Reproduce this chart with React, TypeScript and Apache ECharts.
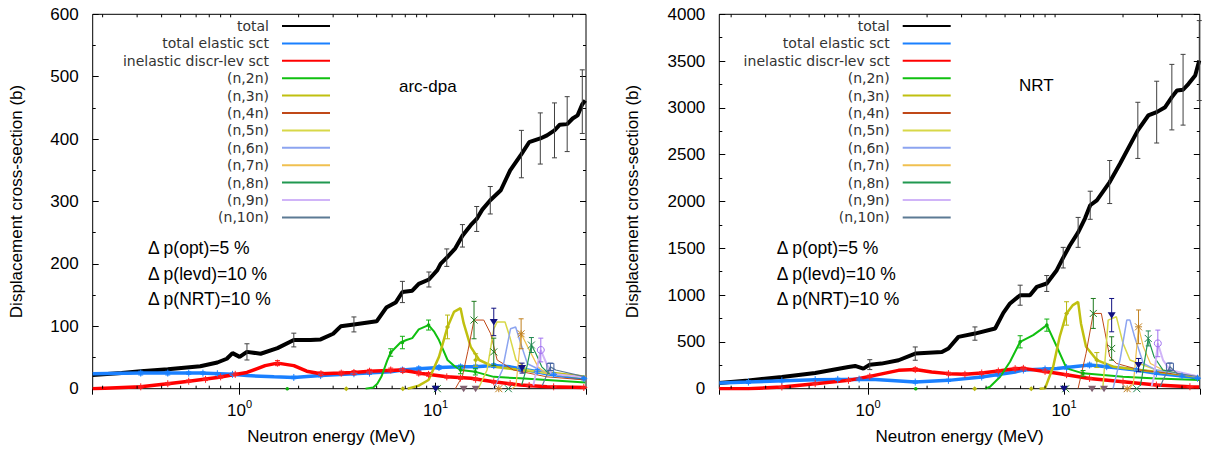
import React, { useEffect, useRef } from "react";
import * as echarts from "echarts";

// ---------- names, styles ----------
const seriesNames = [
  "total", "total elastic sct", "inelastic discr-lev sct", "(n,2n)", "(n,3n)", "(n,4n)",
  "(n,5n)", "(n,6n)", "(n,7n)", "(n,8n)", "(n,9n)", "(n,10n)",
];
const lineColors = ["#000000", "#1a80ff", "#ff0000", "#10c010", "#c0c010", "#c04818", "#d8d848", "#8ca4f0", "#f0c050", "#209850", "#d0b4f8", "#5c7a94"];
const lineWidths = [4, 3.5, 3.5, 2, 2.5, 1, 1.5, 1.5, 1.2, 1.2, 2, 1.2];
const errColors = ["#404040", "#1a80ff", "#ff2020", "#10b010", "#b8b810", "#1e7a1e", "#101080", "#806070", "#c08020", "#208850", "#a070f0", "#4060a0"];
const errMarkers = ["none", "plus", "plus", "dot", "diamond", "cross", "triDown", "triDown", "star", "cross", "circle", "square"];
const noteLines = ["\u0394 p(opt)=5 %", "\u0394 p(levd)=10 %", "\u0394 p(NRT)=10 %"];
const minorTickValues = [0.2, 0.3, 0.4, 0.5, 0.6, 0.7, 0.8, 0.9, 2, 3, 4, 5, 6, 7, 8, 9, 20, 30, 40, 50];

// ---------- arc-dpa panel data: [E (MeV), value (b)] ----------
const arcTotal = [[0.178,22],[0.25,25],[0.313,28],[0.43,31],[0.63,36],[0.77,42],[0.86,48],[0.92,57],[1.0,51],[1.09,59],[1.28,56],[1.56,65],[1.89,78],[2.3,78],[2.59,79],[3.0,88],[3.28,100],[3.83,103],[5.0,108],[5.6,130],[6.25,138],[6.77,155],[7.6,157],[8.2,168],[9.24,175],[10.2,190],[10.6,200],[11.4,210],[12.6,225],[13.7,245],[15.1,262],[16.2,272],[17.3,287],[19.0,302],[21.5,318],[24,350],[27.4,376],[30,395],[34.2,401],[37,406],[40.4,414],[43,423],[46.9,424],[50,433],[53,438],[56,456],[58,462]];
const arcElastic = [[0.178,24],[0.313,25],[0.43,25],[0.63,25],[0.92,23],[1.09,21],[1.5,19],[1.89,18],[2.59,21],[3.83,24],[5.0,26],[5.9,27],[6.77,30],[8.2,32],[10.4,34],[13.4,35],[16,35],[19.8,37],[24,35],[27,32],[32,28],[37,24],[46,20],[58,16]];
const arcInelastic = [[0.178,0],[0.313,3],[0.43,8],[0.55,12],[0.77,18],[1.09,26],[1.35,37],[1.56,41],[1.89,37],[2.2,28],[2.59,24],[3.28,25],[3.83,26],[4.6,28],[6.6,30],[7.6,27],[8.5,24.5],[11.4,19],[15.1,16.6],[19.8,11],[27,6],[37,3],[58,2]];
const arcN2n = [[4.39,0],[4.8,2],[5.04,8],[5.3,20],[5.66,45],[5.9,58],[6.62,74],[7.1,78],[7.6,81],[8.2,95],[9.2,102],[9.8,92],[10.4,78],[11.5,46],[12.5,36],[13.4,30],[15.95,27],[19.8,19],[27,16.6],[37,14],[58,10]];
const arcN3n = [[7.2,0],[8.2,5],[9.2,14],[10.4,51],[11.5,99],[12.4,123],[13.4,129],[13.9,105],[15.1,67],[16.7,46],[19.8,35],[27,30],[40,25],[58,19]];
const arcN4n = [[12.6,0],[13.7,20],[14.6,60],[15.7,110],[17.6,110],[19.1,88],[20.6,46],[24.9,30],[37,19],[58,14]];
const arcN5n = [[16.5,0],[18.3,30],[19.8,96],[20.6,107],[22.6,107],[23.9,83],[25.7,46],[29.5,30],[37,24],[58,18]];
const arcN6n = [[19.8,0],[21.9,30],[24.1,96],[25.6,99],[27.2,72],[29.4,40],[34.2,30],[40,22],[58,18]];
const arcN7n = [[24.5,0],[25.7,5],[27.3,88],[29.5,67],[33.3,35],[37,24],[58,18]];
const arcN8n = [[27.5,6],[29.2,35],[30.8,70],[32.5,56],[34.8,35],[37.9,24],[58,16]];
const arcN9n = [[31.5,5],[34.4,62],[36.8,40],[39,24],[58,18]];
const arcN10n = [[35,5],[38.5,35],[41,30],[58,19]];

// error points: [E, value, error]
const arcTotalErr = [[1.09,59,13],[1.89,78,11],[3.83,103,12],[6.77,155,17],[9.24,175,12],[11.4,210,14],[13.7,245,18],[16.2,272,20],[19.0,302,22],[27.4,376,38],[34.2,401,41],[40.4,414,44],[46.9,424,44],[56,460,51]];
const arcElasticErr = [[0.313,25,3],[0.43,25,3],[0.55,25,2],[0.65,25,2],[0.77,24,2],[0.92,23,2],[1.89,18,2],[2.59,21,2],[3.83,24,2],[4.6,25,2],[6.77,30,3],[8.2,32,3],[10.4,34,3],[13.4,35,3],[16,35,3],[19.8,37,3],[27,32,3],[33,28,3],[40,23,2],[57,16,2]];
const arcInelasticErr = [[0.313,3,2],[0.43,8,2],[0.55,12,2],[0.67,15,2],[0.8,19,2],[0.95,23,2],[1.56,41,4],[2.6,24,3],[3.3,25,3],[3.83,26,3],[4.6,28,3],[5.9,30,3],[6.8,29,3],[8.2,25,3],[9.2,23,3],[11.4,19,2],[13.4,17,2],[16,15,2],[19.8,11,2],[24,8,2],[30,5,2],[40,3,1],[57,2,1]];
const arcN2nErr = [[1.75,0,0],[5.9,58,6],[6.77,74,10],[9.2,102,8],[13.4,30,6],[15.95,27,5]];
const arcN3nErr = [[3.5,0,0],[6.8,0,0],[11.5,99,19],[16,46,10]];
const arcN4nErr = [[10.2,0,0],[15.7,110,30],[19.8,59,22]];
const arcN5nErr = [[10.0,0,0],[19.8,107,22],[27.6,33,8]];
const arcN6nErr = [[13.9,0,0],[16,0,0]];
const arcN7nErr = [[21,0,0],[27.3,88,24]];
const arcN8nErr = [[23.5,0,0],[30.8,70,12]];
const arcN9nErr = [[34.4,62,19]];
const arcN10nErr = [[38.5,35,6]];

// ---------- NRT panel data ----------
const nrtTotal = [[0.174,61],[0.245,89],[0.363,125],[0.537,168],[0.794,232],[0.858,243],[0.946,214],[1.02,257],[1.17,268],[1.43,304],[1.74,375],[2.38,393],[2.57,429],[2.89,554],[3.51,589],[4.45,643],[4.9,810],[5.3,911],[5.97,999],[6.7,999],[7.26,1088],[8.16,1124],[9.18,1266],[9.9,1400],[10.7,1530],[11.8,1670],[12.8,1820],[13.6,1960],[14.7,2013],[17.1,2208],[19.3,2404],[23.8,2760],[26.9,2919],[29.7,2955],[32.8,3008],[35.5,3115],[37.7,3186],[40.5,3194],[43.2,3257],[46.7,3346],[49,3506]];
const nrtElastic = [[0.174,61],[0.245,71],[0.537,96],[1.04,100],[1.74,71],[2.57,89],[3.8,125],[5.63,179],[6.2,199],[9.19,217],[13.5,253],[16.5,235],[23.4,199],[29.6,164],[43.9,128],[49,110]];
const nrtInelastic = [[0.174,0],[0.245,0],[0.363,18],[0.537,54],[0.794,89],[1.02,132],[1.43,196],[1.74,204],[2.11,179],[2.57,161],[3.12,154],[3.8,168],[4.62,189],[5.63,214],[6.2,217],[9.19,164],[13.5,110],[20,75],[29.6,39],[43.9,21],[49,18]];
const nrtN2n = [[3.96,0],[4.19,21],[4.72,128],[5.3,288],[5.97,501],[6.96,572],[7.55,626],[8.17,679],[9.19,448],[10.3,217],[12.5,164],[20,128],[29.6,110],[49,92]];
const nrtN3n = [[7.5,0],[8.0,4],[8.8,235],[9.5,555],[10.3,804],[11.1,893],[11.8,928],[12.2,697],[12.95,448],[14.7,306],[17.8,235],[24.5,199],[49,128]];
const nrtN4n = [[11.8,4],[12.95,377],[14.1,804],[15.5,804],[16.1,626],[17.1,341],[18.5,270],[24.5,199],[49,128]];
const nrtN5n = [[15.3,0],[15.8,21],[16.8,733],[18.5,768],[20,484],[21.7,306],[29.6,199],[49,128]];
const nrtN6n = [[17.8,4],[19.3,306],[20.9,733],[21.7,733],[22.9,555],[25.4,270],[29.6,199],[49,128]];
const nrtN7n = [[21.5,0],[22.6,57],[24,661],[25.4,448],[27.6,270],[32,199],[49,128]];
const nrtN8n = [[24.5,30],[25,128],[26.9,537],[28.8,341],[32,199],[49,128]];
const nrtN9n = [[28,30],[28.8,128],[30.1,484],[32,306],[34.7,199],[49,128]];
const nrtN10n = [[31,20],[32,92],[34.7,235],[37.7,164],[49,128]];

const nrtTotalErr = [[1.02,257,53],[1.74,375,71],[3.51,589,71],[5.97,999,107],[8.16,1124,85],[9.9,1400,110],[11.8,1670,160],[13.6,1960,150],[17.1,2208,230],[23.8,2760,300],[29.7,2955,330],[35.5,3115,350],[40.5,3194,378],[49,3506,427]];
const nrtElasticErr = [[0.245,71,15],[0.363,85,12],[0.537,96,12],[0.7,100,12],[0.9,102,12],[1.74,71,12],[2.57,89,12],[3.8,125,12],[4.6,150,15],[6.2,199,15],[8,210,15],[10.3,225,15],[13.5,253,20],[16.5,235,15],[23.4,199,15],[29.6,164,12],[40,135,10],[48,112,10]];
const nrtInelasticErr = [[0.363,18,8],[0.537,54,10],[0.794,89,12],[1.02,132,14],[1.74,204,20],[2.57,161,15],[3.12,154,15],[3.8,168,15],[4.62,189,15],[5.63,214,15],[6.2,217,15],[8,185,15],[10.3,150,12],[13.5,110,12],[20,75,10],[29.6,39,8],[43.9,21,6]];
const nrtN2nErr = [[1.75,0,0],[5.97,501,65],[8.17,679,65],[12.5,164,30]];
const nrtN3nErr = [[3.5,0,0],[6.8,0,0],[10.3,804,125],[14.7,306,80]];
const nrtN4nErr = [[10.2,0,0],[14.1,804,160],[17.5,430,125]];
const nrtN5nErr = [[10.0,0,0],[17.5,786,178],[24,252,71]];
const nrtN6nErr = [[13.9,0,0],[16,0,0]];
const nrtN7nErr = [[21,0,0],[24,661,180]];
const nrtN8nErr = [[23.5,0,0],[26.9,537,80]];
const nrtN9nErr = [[30.1,484,142]];
const nrtN10nErr = [[34.7,235,40]];

const arcLines = [arcTotal, arcElastic, arcInelastic, arcN2n, arcN3n, arcN4n, arcN5n, arcN6n, arcN7n, arcN8n, arcN9n, arcN10n];
const arcErrs = [arcTotalErr, arcElasticErr, arcInelasticErr, arcN2nErr, arcN3nErr, arcN4nErr, arcN5nErr, arcN6nErr, arcN7nErr, arcN8nErr, arcN9nErr, arcN10nErr];
const nrtLines = [nrtTotal, nrtElastic, nrtInelastic, nrtN2n, nrtN3n, nrtN4n, nrtN5n, nrtN6n, nrtN7n, nrtN8n, nrtN9n, nrtN10n];
const nrtErrs = [nrtTotalErr, nrtElasticErr, nrtInelasticErr, nrtN2nErr, nrtN3nErr, nrtN4nErr, nrtN5nErr, nrtN6nErr, nrtN7nErr, nrtN8nErr, nrtN9nErr, nrtN10nErr];

const FONT = "'Liberation Sans', Arial, Helvetica, sans-serif";
const LEGEND_FONT = "'DejaVu Sans', sans-serif";

const panels = [
  { grid: { left: 92.7, top: 14.3, width: 493.3, height: 374.4 }, xMin: 0.178, xMax: 58.5, yMax: 600, yStep: 100, yNameGap: 66, xNamePad: 16, lines: arcLines, errs: arcErrs, tag: "arc-dpa", tagX: 399, tagY: 88, noteX: 148, legendRight: 874 },
  { grid: { left: 719.3, top: 14.3, width: 480.5, height: 374.4 }, xMin: 0.174, xMax: 49.3, yMax: 4000, yStep: 500, yNameGap: 76.5, xNamePad: 0, lines: nrtLines, errs: nrtErrs, tag: "NRT", tagX: 1019, tagY: 87, noteX: 776.7, legendRight: 253.3 },
];
const noteYs = [249.3, 274.5, 300.2];

function markerShapes(kind: string, cx: number, cy: number, color: string): any[] {
  const s = 3.5;
  const ln = (x1: number, y1: number, x2: number, y2: number) => ({ type: "line", shape: { x1, y1, x2, y2 }, style: { stroke: color, lineWidth: 1 } });
  const plus = [ln(cx - s, cy, cx + s, cy), ln(cx, cy - s, cx, cy + s)];
  const cross = [ln(cx - s, cy - s, cx + s, cy + s), ln(cx - s, cy + s, cx + s, cy - s)];
  switch (kind) {
    case "plus": return plus;
    case "cross": return cross;
    case "star": return plus.concat(cross);
    case "dot": return [{ type: "circle", shape: { cx, cy, r: 1.8 }, style: { fill: color } }];
    case "circle": return [{ type: "circle", shape: { cx, cy, r: s }, style: { fill: "none", stroke: color, lineWidth: 1 } }];
    case "square": return [{ type: "rect", shape: { x: cx - s, y: cy - s, width: 2 * s, height: 2 * s }, style: { fill: "none", stroke: color, lineWidth: 1 } }];
    case "diamond": return [{ type: "polygon", shape: { points: [[cx, cy - 2.5], [cx + 2.5, cy], [cx, cy + 2.5], [cx - 2.5, cy]] }, style: { fill: color } }];
    case "triDown": return [{ type: "polygon", shape: { points: [[cx - s - 0.5, cy - s + 0.5], [cx + s + 0.5, cy - s + 0.5], [cx, cy + s]] }, style: { fill: color } }];
    default: return [];
  }
}

function makeErrRender(color: string, marker: string, yMax: number) {
  return (params: any, api: any) => {
    const x = api.value(0), y = api.value(1), e = api.value(2);
    const p = api.coord([x, y]);
    const children: any[] = [];
    if (e > 0) {
      const lo = api.coord([x, Math.max(0, y - e)]);
      const hi = api.coord([x, Math.min(yMax, y + e)]);
      const c = 2.5;
      const st = { stroke: color, lineWidth: 1 };
      children.push({ type: "line", shape: { x1: p[0], y1: lo[1], x2: p[0], y2: hi[1] }, style: st });
      children.push({ type: "line", shape: { x1: p[0] - c, y1: lo[1], x2: p[0] + c, y2: lo[1] }, style: st });
      children.push({ type: "line", shape: { x1: p[0] - c, y1: hi[1], x2: p[0] + c, y2: hi[1] }, style: st });
    }
    markerShapes(marker, p[0], p[1], color).forEach((m) => children.push(m));
    return { type: "group", children };
  };
}

function minorTickRender(params: any, api: any) {
  const pt = api.coord([api.value(0), 0]);
  const cs = params.coordSys;
  const x = pt[0];
  return {
    type: "group",
    children: [
      { type: "line", shape: { x1: x, y1: cs.y + cs.height, x2: x, y2: cs.y + cs.height - 3 }, style: { stroke: "#000", lineWidth: 1 } },
      { type: "line", shape: { x1: x, y1: cs.y, x2: x, y2: cs.y + 3 }, style: { stroke: "#000", lineWidth: 1 } },
    ],
  };
}

function xLabel(value: number) {
  const e = Math.log10(value);
  if (Math.abs(e - Math.round(e)) > 1e-6) return "";
  return `{b|10}{s|${Math.round(e)}}`;
}

function buildOption() {
  const grids: any[] = [];
  const xAxes: any[] = [];
  const yAxes: any[] = [];
  const series: any[] = [];
  const legends: any[] = [];
  const graphics: any[] = [];

  panels.forEach((p, i) => {
    grids.push({ ...p.grid, show: true, borderColor: "#000", borderWidth: 1, backgroundColor: "transparent", containLabel: false });
    const xBase = {
      type: "log", logBase: 10, gridIndex: i, min: p.xMin, max: p.xMax,
      axisLine: { show: false }, splitLine: { show: false },
      axisTick: { show: true, inside: true, length: 6, lineStyle: { color: "#000" } },
    };
    xAxes.push({
      ...xBase, position: "bottom",
      name: "Neutron energy (MeV)", nameLocation: "middle", nameGap: 38,
      nameTextStyle: { fontFamily: FONT, fontSize: 17, color: "#000", lineHeight: 20, padding: [0, p.xNamePad, 0, 0] },
      axisLabel: {
        show: true, margin: 10, showMinLabel: false, showMaxLabel: false, formatter: xLabel,
        rich: {
          b: { fontFamily: FONT, fontSize: 17, color: "#000", lineHeight: 20, verticalAlign: "bottom" },
          s: { fontFamily: FONT, fontSize: 11, color: "#000", lineHeight: 10, verticalAlign: "top" },
        },
      },
    });
    xAxes.push({ ...xBase, position: "top", axisLabel: { show: false } });
    const yBase = {
      type: "value", gridIndex: i, min: 0, max: p.yMax, interval: p.yStep,
      axisLine: { show: false }, splitLine: { show: false },
      axisTick: { show: true, inside: true, length: 6, lineStyle: { color: "#000" } },
      minorTick: { show: true, splitNumber: 2, length: 3, lineStyle: { color: "#000" } },
    };
    yAxes.push({
      ...yBase, position: "left",
      name: "Displacement cross-section (b)", nameLocation: "middle", nameGap: p.yNameGap, nameRotate: 90,
      nameTextStyle: { fontFamily: FONT, fontSize: 17, color: "#000", lineHeight: 20 },
      axisLabel: { show: true, margin: 14, fontFamily: FONT, fontSize: 17, color: "#000", formatter: (v: number) => String(v) },
    });
    yAxes.push({ ...yBase, position: "right", axisLabel: { show: false } });

    const xa = i * 2, ya = i * 2;
    seriesNames.forEach((name, k) => {
      series.push({
        type: "line", name, xAxisIndex: xa, yAxisIndex: ya, data: p.lines[k],
        symbol: "none", showSymbol: false, silent: true, z: 2,
        lineStyle: { color: lineColors[k], width: lineWidths[k] },
        itemStyle: { color: lineColors[k] },
      });
    });
    seriesNames.forEach((name, k) => {
      series.push({
        type: "custom", name: name + " errors", xAxisIndex: xa, yAxisIndex: ya, data: p.errs[k],
        encode: { x: 0, y: 1 }, renderItem: makeErrRender(errColors[k], errMarkers[k], p.yMax),
        silent: true, z: 3, clip: false,
      });
    });
    series.push({
      type: "custom", name: "minor ticks " + i, xAxisIndex: xa, yAxisIndex: ya,
      data: minorTickValues.filter((v) => v > p.xMin && v < p.xMax).map((v) => [v, 0]),
      encode: { x: 0, y: 1 }, renderItem: minorTickRender, silent: true, z: 4, clip: false,
    });

    legends.push({
      orient: "vertical", align: "right", right: p.legendRight, top: 18.8, padding: 0,
      itemWidth: 48, itemHeight: 10, itemGap: 3, selectedMode: false,
      itemStyle: { opacity: 0 },
      textStyle: { fontFamily: LEGEND_FONT, fontSize: 14, color: "#333", lineHeight: 14.4, padding: [0, 8, 0, 0] },
      data: seriesNames,
    });

    graphics.push({
      type: "text", left: p.tagX, top: p.tagY - 10,
      style: { text: p.tag, fontFamily: FONT, fontSize: 17, fill: "#000" },
    });
    noteLines.forEach((t, j) => {
      graphics.push({
        type: "text", left: p.noteX, top: noteYs[j] - 10,
        style: { text: t, fontFamily: FONT, fontSize: 17.5, fill: "#000" },
      });
    });
  });

  return {
    animation: false,
    backgroundColor: "#fff",
    textStyle: { fontFamily: FONT },
    grid: grids,
    xAxis: xAxes,
    yAxis: yAxes,
    legend: legends,
    series,
    graphic: graphics,
  };
}

export default function App() {
  const ref = useRef<HTMLDivElement>(null);
  useEffect(() => {
    const chart = echarts.init(ref.current as HTMLDivElement, null, { renderer: "svg" });
    chart.setOption(buildOption() as any);
    return () => chart.dispose();
  }, []);
  return (
    <div
      ref={ref}
      style={{ position: "absolute", left: 0, top: 0, width: 1205, height: 452, background: "#fff" }}
    />
  );
}
